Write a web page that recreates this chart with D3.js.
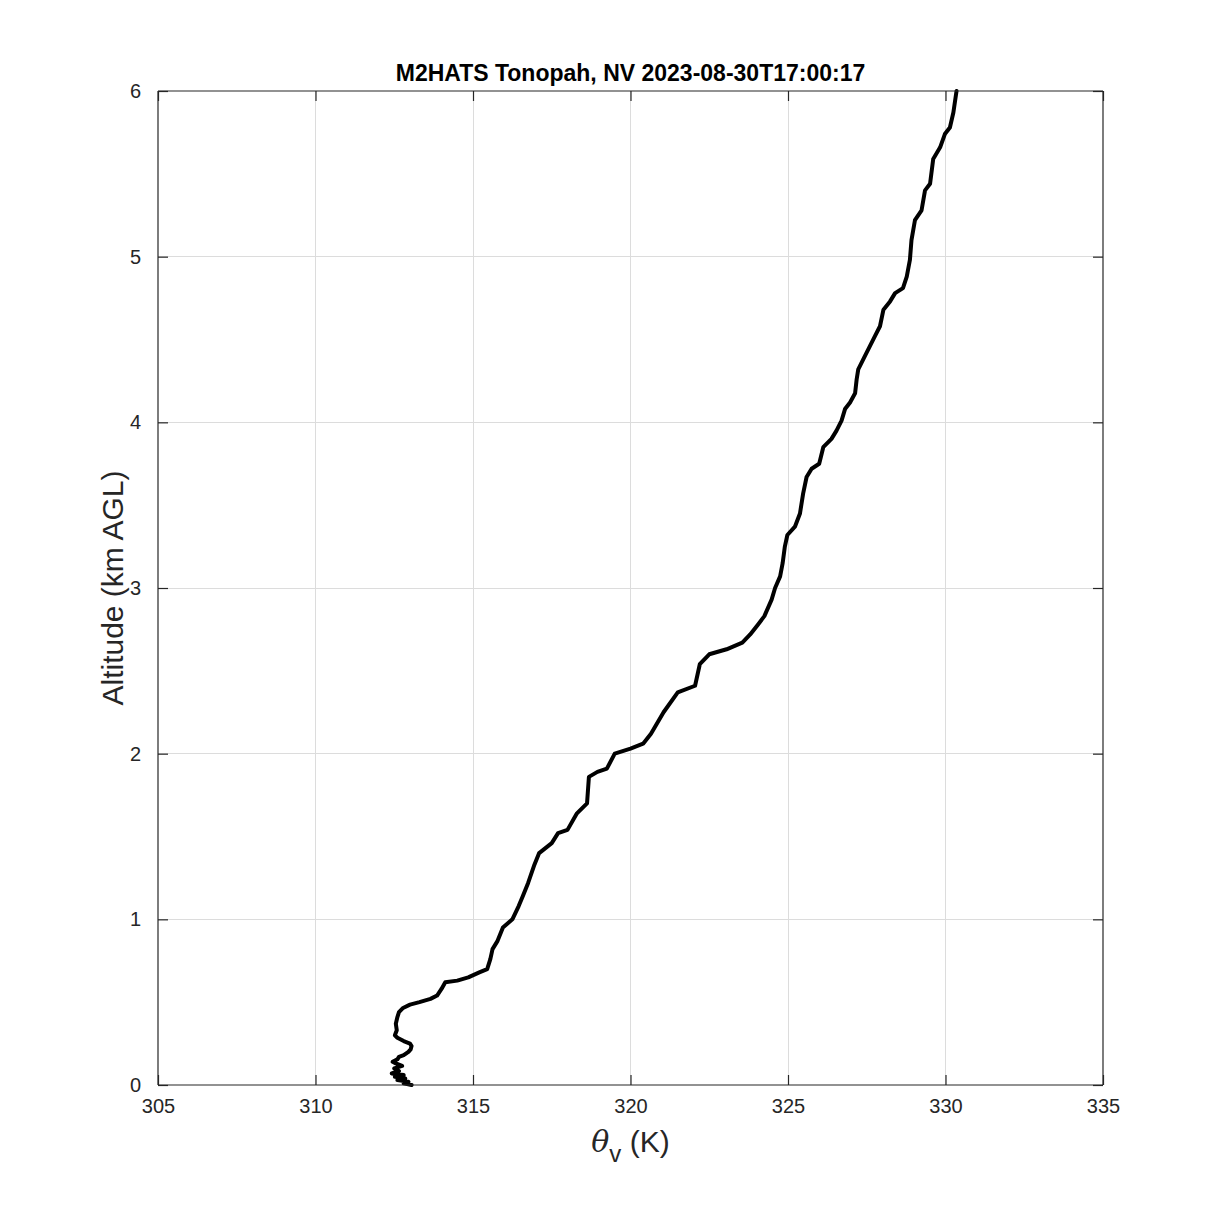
<!DOCTYPE html>
<html>
<head>
<meta charset="utf-8">
<script src="https://cdn.jsdelivr.net/npm/d3@7"></script>
<style>
  html, body { margin: 0; padding: 0; background: #ffffff; }
  svg { display: block; }
</style>
</head>
<body>
<div id="chart"></div>
<script>
// ---- data ----
const chartTitle = "M2HATS Tonopah, NV 2023-08-30T17:00:17";
const xTicks = [305, 310, 315, 320, 325, 330, 335];
const yTicks = [0, 1, 2, 3, 4, 5, 6];
const xDomain = [305, 335];
const yDomain = [0, 6];

const altKm = [
  0.000, 0.010, 0.020, 0.030, 0.040, 0.050, 0.060, 0.070, 0.085, 0.100,
  0.115, 0.130, 0.140, 0.155, 0.170, 0.180, 0.200, 0.215, 0.235, 0.250,
  0.265, 0.285, 0.300, 0.330, 0.370, 0.410, 0.440, 0.465, 0.485, 0.500,
  0.520, 0.540, 0.580, 0.620, 0.630, 0.650, 0.680, 0.700, 0.760, 0.820,
  0.870, 0.950, 1.000, 1.080, 1.140, 1.220, 1.330, 1.400, 1.460, 1.520,
  1.540, 1.640, 1.700, 1.860, 1.890, 1.910, 2.000, 2.030, 2.060, 2.120,
  2.250, 2.370, 2.410, 2.540, 2.600, 2.630, 2.670, 2.720, 2.780, 2.830,
  2.930, 3.000, 3.070, 3.150, 3.250, 3.320, 3.370, 3.450, 3.570, 3.670,
  3.720, 3.750, 3.850, 3.900, 3.950, 4.010, 4.080, 4.120, 4.175, 4.260,
  4.320, 4.400, 4.460, 4.520, 4.580, 4.680, 4.730, 4.780, 4.810, 4.880,
  4.980, 5.100, 5.220, 5.280, 5.400, 5.440, 5.590, 5.660, 5.740, 5.780,
  5.870, 6.000
];
const thetaV = [
  313.05, 312.80, 312.95, 312.60, 312.85, 312.52, 312.80, 312.42, 312.65, 312.50,
  312.75, 312.55, 312.45, 312.60, 312.65, 312.80, 312.95, 313.02, 313.05, 313.00,
  312.80, 312.60, 312.52, 312.58, 312.55, 312.60, 312.65, 312.78, 313.00, 313.30,
  313.65, 313.86, 314.00, 314.12, 314.50, 314.85, 315.20, 315.45, 315.55, 315.62,
  315.78, 315.95, 316.25, 316.45, 316.58, 316.75, 316.95, 317.10, 317.50, 317.70,
  318.00, 318.30, 318.62, 318.68, 318.95, 319.25, 319.50, 320.00, 320.40, 320.65,
  321.05, 321.50, 322.05, 322.20, 322.50, 323.05, 323.55, 323.80, 324.05, 324.25,
  324.48, 324.59, 324.75, 324.83, 324.90, 324.98, 325.22, 325.38, 325.48, 325.59,
  325.75, 325.99, 326.12, 326.38, 326.54, 326.70, 326.81, 326.97, 327.13, 327.18,
  327.23, 327.44, 327.60, 327.76, 327.92, 328.03, 328.24, 328.40, 328.65, 328.77,
  328.87, 328.92, 329.03, 329.24, 329.35, 329.51, 329.61, 329.83, 329.98, 330.14,
  330.25, 330.35
];

// ---- layout ----
const W = 1219, H = 1219;
const plot = { left: 158, top: 91, right: 1103, bottom: 1085 };
const axisColor = "#262626";
const font = "'Liberation Sans', Arial, Helvetica, sans-serif";

const svg = d3.select("#chart").append("svg")
  .attr("width", W).attr("height", H)
  .attr("viewBox", `0 0 ${W} ${H}`);

svg.append("rect").attr("width", W).attr("height", H).attr("fill", "#ffffff");

const x = d3.scaleLinear().domain(xDomain).range([plot.left, plot.right]);
const y = d3.scaleLinear().domain(yDomain).range([plot.bottom, plot.top]);

// grid
const grid = svg.append("g").attr("class", "grid");
grid.selectAll("line.gx").data(xTicks.slice(1, -1)).join("line")
  .attr("x1", d => x(d)).attr("x2", d => x(d))
  .attr("y1", plot.top).attr("y2", plot.bottom)
  .attr("stroke", "#dcdcdc").attr("stroke-width", 1).attr("shape-rendering", "crispEdges");
grid.selectAll("line.gy").data(yTicks.slice(1, -1)).join("line")
  .attr("y1", d => y(d)).attr("y2", d => y(d))
  .attr("x1", plot.left).attr("x2", plot.right)
  .attr("stroke", "#dcdcdc").attr("stroke-width", 1).attr("shape-rendering", "crispEdges");

// profile line
const pts = altKm.map((a, i) => [thetaV[i], a]);
const line = d3.line().x(d => x(d[0])).y(d => y(d[1])).curve(d3.curveLinear);
svg.append("path").datum(pts)
  .attr("d", line)
  .attr("fill", "none")
  .attr("stroke", "#000000")
  .attr("stroke-width", 4)
  .attr("stroke-linejoin", "round")
  .attr("stroke-linecap", "round");

// axes (MATLAB-style: ticks inward, box)
const tickLen = 10;
const xAxisB = d3.axisBottom(x).tickValues(xTicks).tickSize(-tickLen).tickPadding(14).tickFormat(d3.format("d"));
const xAxisT = d3.axisTop(x).tickValues(xTicks).tickSize(-tickLen).tickFormat("");
const yAxisL = d3.axisLeft(y).tickValues(yTicks).tickSize(-tickLen).tickPadding(17).tickFormat(d3.format("d"));
const yAxisR = d3.axisRight(y).tickValues(yTicks).tickSize(-tickLen).tickFormat("");

function styleAxis(g) {
  g.selectAll("path.domain").attr("stroke", axisColor).attr("stroke-width", 1.2);
  g.selectAll(".tick line").attr("stroke", axisColor).attr("stroke-width", 1.2);
  g.selectAll(".tick text").attr("fill", axisColor).style("font-family", font).style("font-size", "20px");
}
svg.append("g").attr("transform", `translate(0,${plot.bottom})`).call(xAxisB).call(styleAxis)
  .call(g => g.select("path.domain").attr("d", `M${plot.left},0H${plot.right}`));
svg.append("g").attr("transform", `translate(0,${plot.top})`).call(xAxisT).call(styleAxis)
  .call(g => g.select("path.domain").attr("d", `M${plot.left},0H${plot.right}`));
svg.append("g").attr("transform", `translate(${plot.left},0)`).call(yAxisL).call(styleAxis)
  .call(g => g.select("path.domain").attr("d", `M0,${plot.top}V${plot.bottom}`));
svg.append("g").attr("transform", `translate(${plot.right},0)`).call(yAxisR).call(styleAxis)
  .call(g => g.select("path.domain").attr("d", `M0,${plot.top}V${plot.bottom}`));

// title
svg.append("text")
  .attr("x", (plot.left + plot.right) / 2).attr("y", 81)
  .attr("text-anchor", "middle")
  .style("font-family", font).style("font-size", "23px").style("font-weight", "bold")
  .attr("fill", "#000")
  .text(chartTitle);

// y label
svg.append("text")
  .attr("transform", `translate(123,${(plot.top + plot.bottom) / 2}) rotate(-90)`)
  .attr("text-anchor", "middle")
  .style("font-family", font).style("font-size", "30px")
  .attr("fill", axisColor)
  .text("Altitude (km AGL)");

// x label: θ_v (K)
const xl = svg.append("text")
  .attr("x", (plot.left + plot.right) / 2).attr("y", 1152)
  .attr("text-anchor", "middle")
  .style("font-family", font).style("font-size", "30px")
  .attr("fill", axisColor);
xl.append("tspan").style("font-family", "'DejaVu Serif', 'Liberation Serif', serif").style("font-style", "italic").text("θ");
xl.append("tspan").attr("dy", 10).style("font-size", "24px").text("v");
xl.append("tspan").attr("dy", -10).text(" (K)");
</script>
</body>
</html>
